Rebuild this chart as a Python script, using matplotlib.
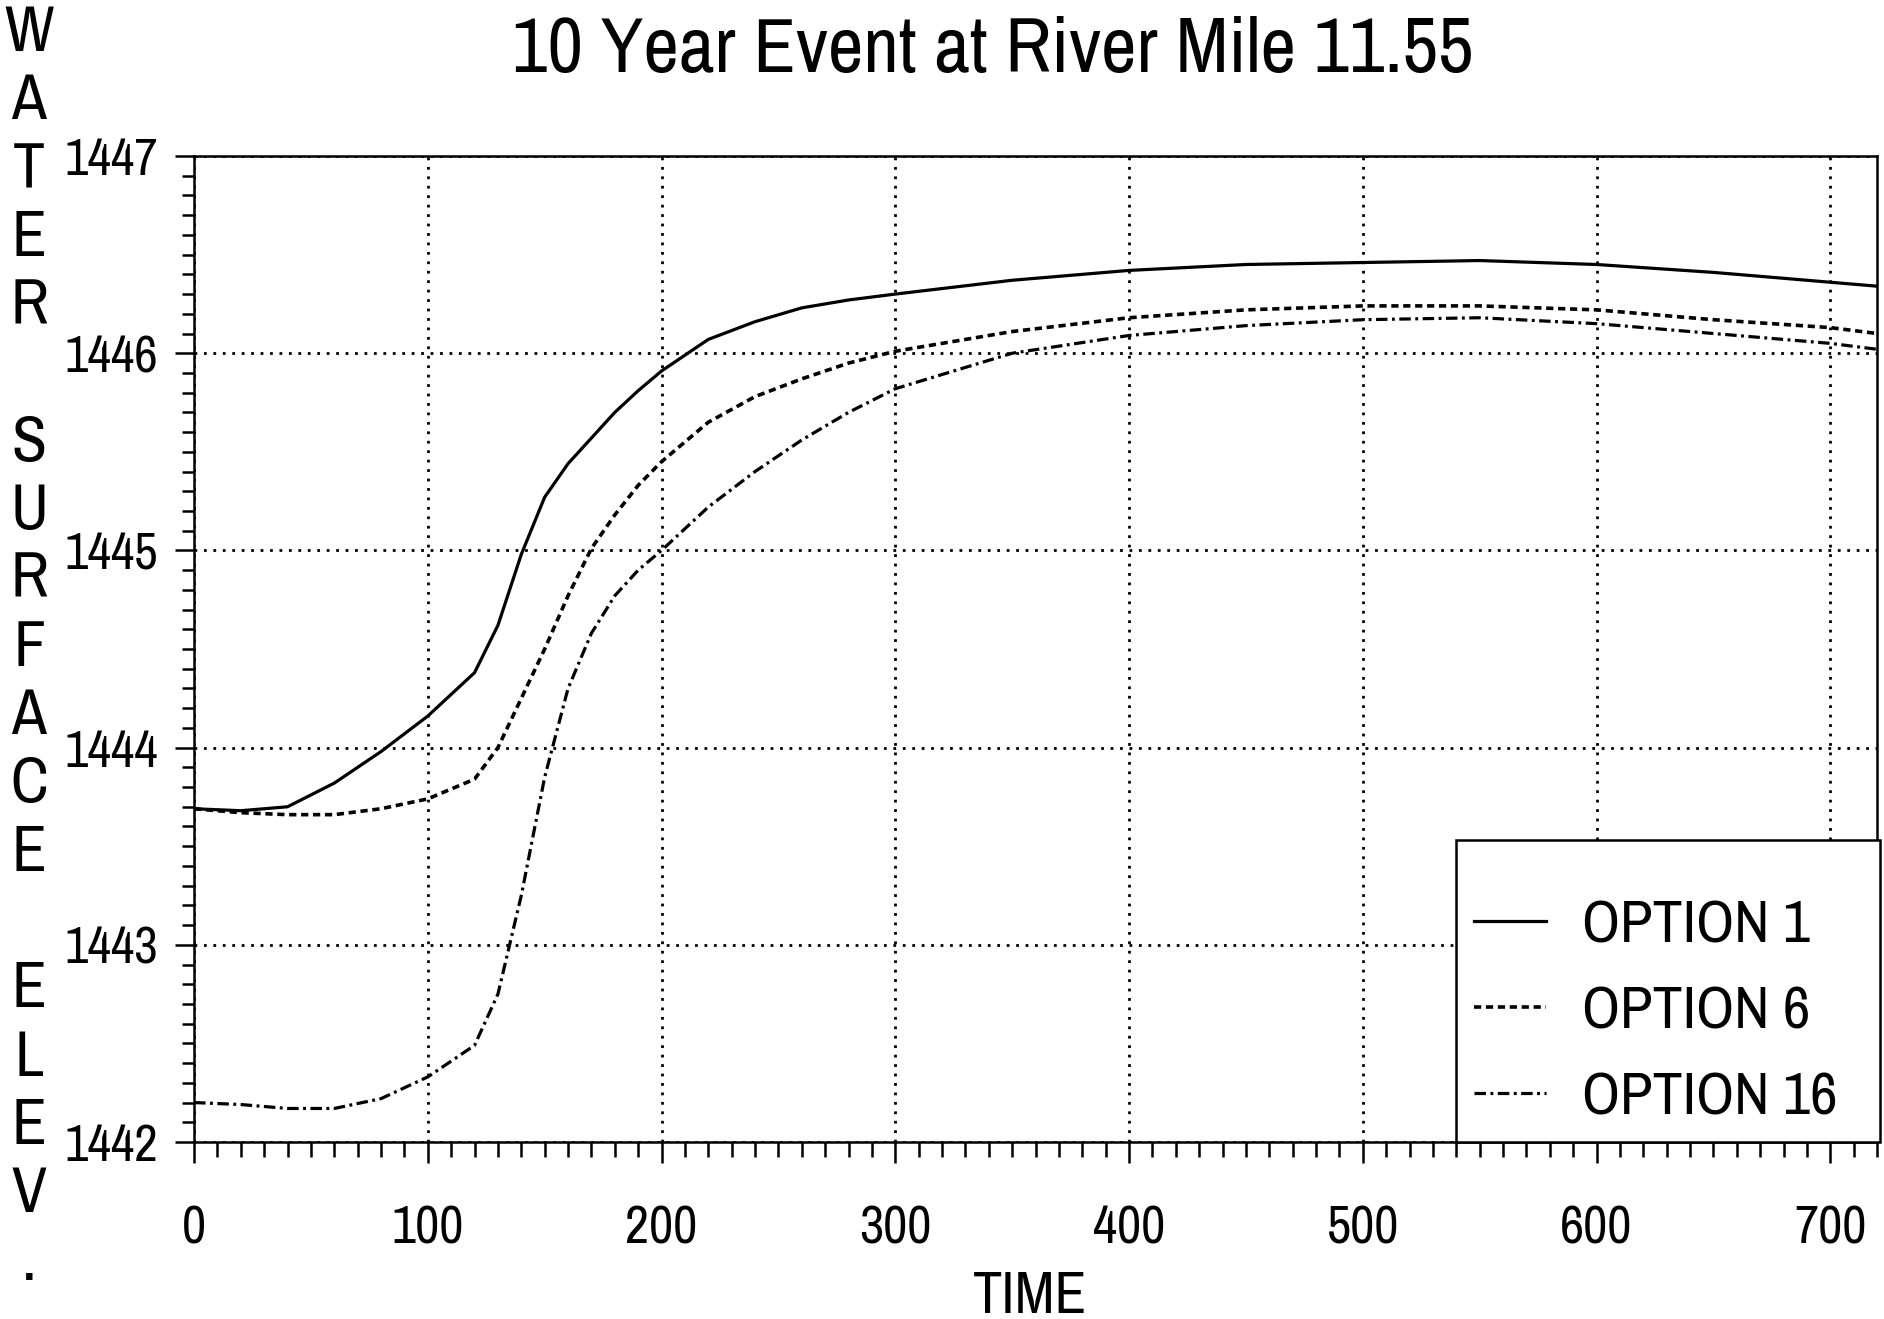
import matplotlib
matplotlib.use('Agg')
import matplotlib.pyplot as plt
from matplotlib import font_manager
from matplotlib.ticker import MultipleLocator

# time axis and water surface elevations
time = [0, 20, 40, 60, 80, 100, 120, 130, 140, 150, 160, 170, 180, 190, 200,
        220, 240, 260, 280, 300, 350, 400, 450, 500, 550, 600, 650, 700, 720]
option_1 = [1443.69, 1443.68, 1443.70, 1443.82, 1443.98, 1444.16, 1444.38,
            1444.62, 1444.98, 1445.27, 1445.44, 1445.57, 1445.70, 1445.81,
            1445.91, 1446.07, 1446.16, 1446.23, 1446.27, 1446.30, 1446.37,
            1446.42, 1446.45, 1446.46, 1446.47, 1446.45, 1446.41, 1446.36,
            1446.34]
option_6 = [1443.69, 1443.67, 1443.66, 1443.66, 1443.69, 1443.74, 1443.84,
            1444.00, 1444.25, 1444.50, 1444.77, 1445.01, 1445.18, 1445.33,
            1445.45, 1445.65, 1445.78, 1445.87, 1445.95, 1446.01, 1446.11,
            1446.18, 1446.22, 1446.24, 1446.24, 1446.22, 1446.17, 1446.13,
            1446.10]
option_16 = [1442.20, 1442.19, 1442.17, 1442.17, 1442.22, 1442.33, 1442.49,
             1442.75, 1443.25, 1443.85, 1444.30, 1444.58, 1444.77, 1444.90,
             1445.00, 1445.22, 1445.40, 1445.56, 1445.70, 1445.82, 1446.00,
             1446.09, 1446.14, 1446.17, 1446.18, 1446.15, 1446.10, 1446.05,
             1446.02]

series_labels = ['OPTION 1', 'OPTION 6', 'OPTION 16']
x_ticks = [0, 100, 200, 300, 400, 500, 600, 700]
y_ticks = [1442, 1443, 1444, 1445, 1446, 1447]
title = '10 Year Event at River Mile 11.55'
y_label = 'WATER SURFACE ELEV.'

# prefer a narrow face, like the plotter font of the original
names = sorted({f.name for f in font_manager.fontManager.ttflist})
narrow = [n for n in names if 'Narrow' in n or 'Condensed' in n]
if narrow:
    family = narrow[0]
    k = 1.0
else:
    family = 'Liberation Sans'
    k = 0.82
plt.rcParams['font.family'] = [family, 'DejaVu Sans']
plt.rcParams['font.weight'] = 'light'

fig = plt.figure(figsize=(18.84, 13.19), dpi=100)
ax = fig.add_axes([0.103, 0.1342, 0.8933, 0.7475])

ax.plot(time, option_1, color='black', lw=2.3, linestyle='-', label=series_labels[0])
ax.plot(time, option_6, color='black', lw=2.6, linestyle=(0, (2.0, 1.3)), label=series_labels[1])
ax.plot(time, option_16, color='black', lw=2.3, linestyle=(0, (3.6, 1.4, 0.9, 1.4)), label=series_labels[2])

ax.set_xlim(0, 720)
ax.set_ylim(1442, 1447)
ax.set_xticks(x_ticks)
ax.set_yticks(y_ticks)
ax.xaxis.set_minor_locator(MultipleLocator(10))
ax.yaxis.set_minor_locator(MultipleLocator(0.1))

ax.tick_params(axis='x', which='major', direction='out', length=15, width=1.8,
               pad=30, labelsize=38 * k)
ax.tick_params(axis='x', which='minor', direction='out', length=11, width=1.8)
ax.tick_params(axis='y', which='major', direction='out', length=14, width=1.8,
               pad=12, labelsize=37 * k)
ax.tick_params(axis='y', which='minor', direction='out', length=9, width=1.8)

for sp in ax.spines.values():
    sp.set_linewidth(1.8)

ax.grid(True, which='major', color='black', linestyle=(0, (1, 2.4)), lw=2.0)

# a blank, tiny legend title keeps the extra room above the first row
leg = ax.legend(loc='lower left', bbox_to_anchor=(0.75, 0.0, 0.252, 0.308),
                mode='expand', borderaxespad=0, fontsize=43 * k, frameon=True,
                fancybox=False, handlelength=1.2, handletextpad=0.6,
                labelspacing=0.55, borderpad=0.3, title=' ',
                title_fontsize=6)
leg.get_frame().set_edgecolor('black')
leg.get_frame().set_linewidth(1.8)
leg.get_frame().set_facecolor('white')
leg.get_frame().set_alpha(1.0)

fig.text(0.527, 0.962, title, ha='center', va='center', fontsize=56 * k)
fig.text(0.547, 0.0174, 'TIME', ha='center', va='center', fontsize=42 * k)

# vertical stacked y label, one character per line
for i, ch in enumerate(y_label):
    y_px = 51 + 68.3 * i
    fig.text(29 / 1884, 1 - y_px / 1319, ch, ha='center', va='baseline',
             fontsize=46 * k)

fig.savefig('out.png', dpi=100, facecolor='white')
